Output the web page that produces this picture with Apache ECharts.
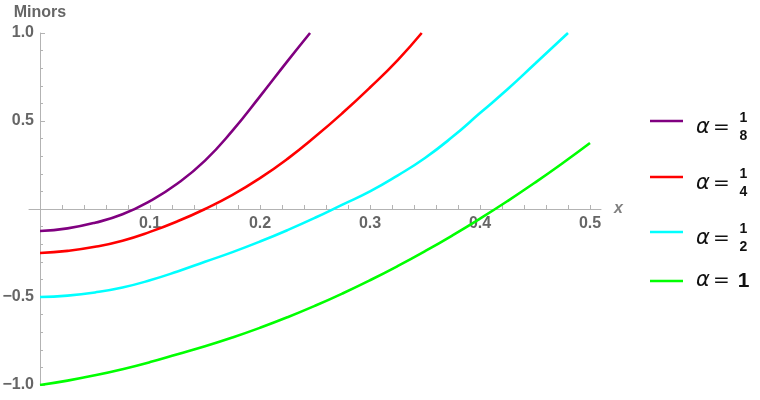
<!DOCTYPE html>
<html>
<head>
<meta charset="utf-8">
<script src="https://cdn.jsdelivr.net/npm/echarts@6/dist/echarts.min.js"></script>
<style>
html,body{margin:0;padding:0;background:#fff;}
#chart{width:760px;height:400px;}
</style>
</head>
<body>
<div id="chart"></div>
<script>
// ---- data ----
const xPurple = [0, 0.025, 0.05, 0.075, 0.1, 0.125, 0.15, 0.175, 0.2, 0.225, 0.2455];
const yPurple = [-0.125, -0.11, -0.078, -0.03, 0.045, 0.145, 0.275, 0.445, 0.64, 0.84, 1.0];

const xRed = [0, 0.025, 0.05, 0.075, 0.1, 0.125, 0.15, 0.175, 0.2, 0.225, 0.25, 0.275, 0.3, 0.325, 0.347];
const yRed = [-0.25, -0.238, -0.215, -0.18, -0.13, -0.07, 0.0, 0.08, 0.175, 0.285, 0.41, 0.545, 0.69, 0.845, 1.0];

const xCyan = [0, 0.025, 0.05, 0.075, 0.1, 0.125, 0.15, 0.175, 0.2, 0.225, 0.25, 0.275, 0.3, 0.325, 0.35, 0.375, 0.4, 0.425, 0.45, 0.48];
const yCyan = [-0.5, -0.492, -0.474, -0.446, -0.405, -0.355, -0.30, -0.245, -0.185, -0.12, -0.05, 0.025, 0.10, 0.19, 0.29, 0.41, 0.545, 0.68, 0.825, 1.0];

const xGreen = [0, 0.025, 0.05, 0.075, 0.1, 0.125, 0.15, 0.175, 0.2, 0.225, 0.25, 0.275, 0.3, 0.325, 0.35, 0.375, 0.4, 0.425, 0.45, 0.475, 0.5];
const yGreen = [-1.0, -0.975, -0.945, -0.91, -0.87, -0.825, -0.78, -0.73, -0.675, -0.615, -0.55, -0.48, -0.405, -0.325, -0.24, -0.15, -0.055, 0.045, 0.15, 0.26, 0.375];

const xTickLabels = [0.1, 0.2, 0.3, 0.4, 0.5];
const xTicks = [0.02, 0.04, 0.06, 0.08, 0.1, 0.12, 0.14, 0.16, 0.18, 0.2, 0.22, 0.24, 0.26, 0.28, 0.3,
                0.32, 0.34, 0.36, 0.38, 0.4, 0.42, 0.44, 0.46, 0.48, 0.5];
const yTickLabels = [-1.0, -0.5, 0.5, 1.0];

const legendNames = ['α = 1/8', 'α = 1/4', 'α = 1/2', 'α = 1'];
const legendNum = ['1', '1', '1', ''];
const legendDen = ['8', '4', '2', ''];
const colors = ['#800080', '#ff0000', '#00ffff', '#00ff00'];

// ---- layout ----
const W = 760, H = 400;
const G = {left: 29, right: 159, top: 33, bottom: 15};
const X_MIN = -0.01, X_MAX = 0.51, Y_MIN = -1, Y_MAX = 1;
const gridW = W - G.left - G.right, gridH = H - G.top - G.bottom;
// move the axes onto the zero lines (axis lines cross at the origin)
const yAxisOffset = -Math.round((0 - X_MIN) / (X_MAX - X_MIN) * gridW);
const xAxisOffset = -Math.round((0 - Y_MIN) / (Y_MAX - Y_MIN) * gridH);

// ---- chart ----
const pairs = (xs, ys) => xs.map((x, i) => [x, ys[i]]);
const seriesData = [pairs(xPurple, yPurple), pairs(xRed, yRed), pairs(xCyan, yCyan), pairs(xGreen, yGreen)];

const axisGray = '#b3b3b3';
const labelGray = '#666666';
const FONT = '"Liberation Sans", Arial, sans-serif';

const chart = echarts.init(document.getElementById('chart'), null, {renderer: 'canvas'});

const series = seriesData.map((d, i) => ({
  name: legendNames[i],
  type: 'line',
  data: d,
  showSymbol: false,
  smooth: 0.5,
  lineStyle: {color: colors[i], width: 2.6},
  itemStyle: {color: colors[i]},
  z: 3
}));

// custom legend built from the legend arrays
const legendLineY = [121, 177, 232, 281];
const graphic = [];
legendNames.forEach((n, i) => {
  const ly = legendLineY[i];
  graphic.push({
    type: 'line',
    shape: {x1: 650, y1: ly, x2: 683, y2: ly},
    style: {stroke: colors[i], lineWidth: 2.6},
    silent: true
  });
  const frac = legendNum[i] !== '';
  const ty = frac ? ly + 7 : ly;
  graphic.push({
    type: 'text',
    x: 696, y: ty,
    style: {text: 'α', font: 'italic 21px "DejaVu Sans", sans-serif', fill: '#111', align: 'left', verticalAlign: 'middle'}
  });
  graphic.push({
    type: 'text',
    x: 713, y: ty,
    style: {text: '=', font: '20px "DejaVu Sans", sans-serif', fill: '#111', align: 'left', verticalAlign: 'middle'}
  });
  if (frac) {
    graphic.push({
      type: 'text',
      x: 743.5, y: ty - 10,
      style: {text: legendNum[i], font: 'bold 14px ' + FONT, fill: '#111', align: 'center', verticalAlign: 'middle'}
    });
    graphic.push({
      type: 'text',
      x: 743.5, y: ty + 8,
      style: {text: legendDen[i], font: 'bold 14px ' + FONT, fill: '#111', align: 'center', verticalAlign: 'middle'}
    });
  } else {
    graphic.push({
      type: 'text',
      x: 743.5, y: ty,
      style: {text: '1', font: 'bold 21px ' + FONT, fill: '#111', align: 'center', verticalAlign: 'middle'}
    });
  }
});

const fmt = v => (Math.abs(v) < 1e-9 ? '' : v.toFixed(1).replace('-', '\u2212'));

const option = {
  animation: false,
  backgroundColor: '#fff',
  grid: {left: G.left, right: G.right, top: G.top, bottom: G.bottom, containLabel: false, outerBoundsMode: 'none'},
  xAxis: {
    type: 'value', min: X_MIN, max: X_MAX, position: 'bottom', offset: xAxisOffset,
    name: 'x', nameLocation: 'end', nameGap: 13,
    nameTextStyle: {fontStyle: 'italic', fontWeight: 'bold', fontSize: 16, color: '#808080', fontFamily: FONT, verticalAlign: 'middle'},
    axisLine: {show: true, onZero: false, lineStyle: {color: axisGray, width: 1}},
    axisTick: {show: true, inside: true, length: 4, customValues: xTicks, lineStyle: {color: axisGray}},
    axisLabel: {show: true, customValues: xTickLabels, formatter: v => v.toFixed(1), color: labelGray, fontWeight: 'bold', fontSize: 16, fontFamily: FONT, margin: 7},
    splitLine: {show: false}
  },
  yAxis: {
    type: 'value', min: Y_MIN, max: Y_MAX, interval: 0.5, position: 'left', offset: yAxisOffset,
    name: 'Minors', nameLocation: 'end', nameGap: 12,
    nameTextStyle: {fontWeight: 'bold', fontSize: 16, color: labelGray, fontFamily: FONT},
    axisLine: {show: true, onZero: false, lineStyle: {color: axisGray, width: 1}},
    axisTick: {show: true, inside: true, length: 5, lineStyle: {color: axisGray}},
    minorTick: {show: true, splitNumber: 5, length: 3, lineStyle: {color: axisGray}},
    axisLabel: {
      show: true, customValues: yTickLabels, formatter: fmt,
      color: labelGray, fontWeight: 'bold', fontSize: 16, fontFamily: FONT, margin: 6
    },
    splitLine: {show: false},
    minorSplitLine: {show: false}
  },
  series: series,
  graphic: graphic
};
chart.setOption(option);
</script>
</body>
</html>
